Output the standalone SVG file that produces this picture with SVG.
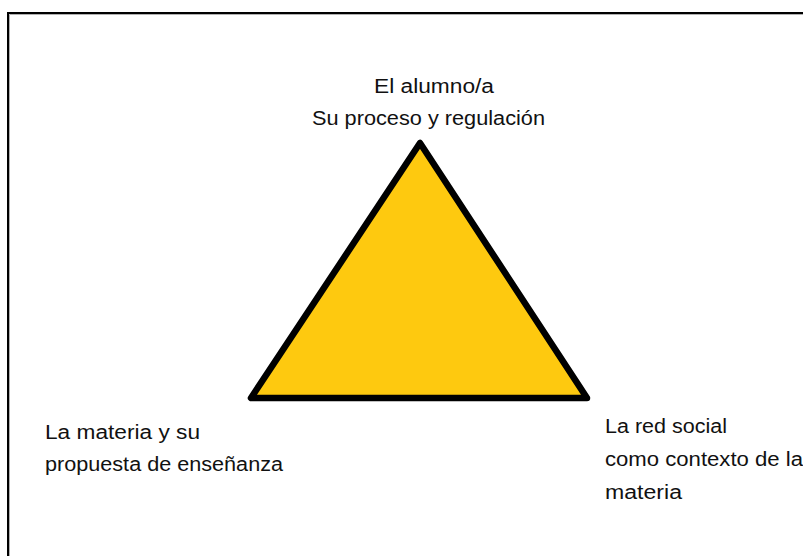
<svg xmlns="http://www.w3.org/2000/svg" width="803" height="556" viewBox="0 0 803 556">
<style>
text { font-family: "Comic Sans MS", "Liberation Sans", "DejaVu Sans", sans-serif; font-size: 20px; fill: #111; }
</style>
<rect width="803" height="556" fill="#ffffff"/>
<g id="frame">
<path d="M9.5,600 V14.5 H900" fill="none" stroke="#b0b0b0" stroke-width="1"/>
<path d="M8,600 V13 H900" fill="none" stroke="#000" stroke-width="2"/>
</g>
<g id="triangle">
<polygon points="420,143 251,398 587,398" fill="#FEC90F" stroke="#000" stroke-width="6.5" stroke-linejoin="round"/>
</g>
<g id="node-alumno">
<text x="374" y="93" textLength="120" lengthAdjust="spacingAndGlyphs">El alumno/a</text>
<text x="312" y="125" textLength="233" lengthAdjust="spacingAndGlyphs">Su proceso y regulación</text>
</g>
<g id="node-materia">
<text x="45" y="439" textLength="155" lengthAdjust="spacingAndGlyphs">La materia y su</text>
<text x="45" y="471" textLength="238" lengthAdjust="spacingAndGlyphs">propuesta de enseñanza</text>
</g>
<g id="node-red">
<text x="605" y="433" textLength="122" lengthAdjust="spacingAndGlyphs">La red social</text>
<text x="605" y="466" textLength="198" lengthAdjust="spacingAndGlyphs">como contexto de la</text>
<text x="605" y="499" textLength="77" lengthAdjust="spacingAndGlyphs">materia</text>
</g>
<g id="connectors"></g>
</svg>
